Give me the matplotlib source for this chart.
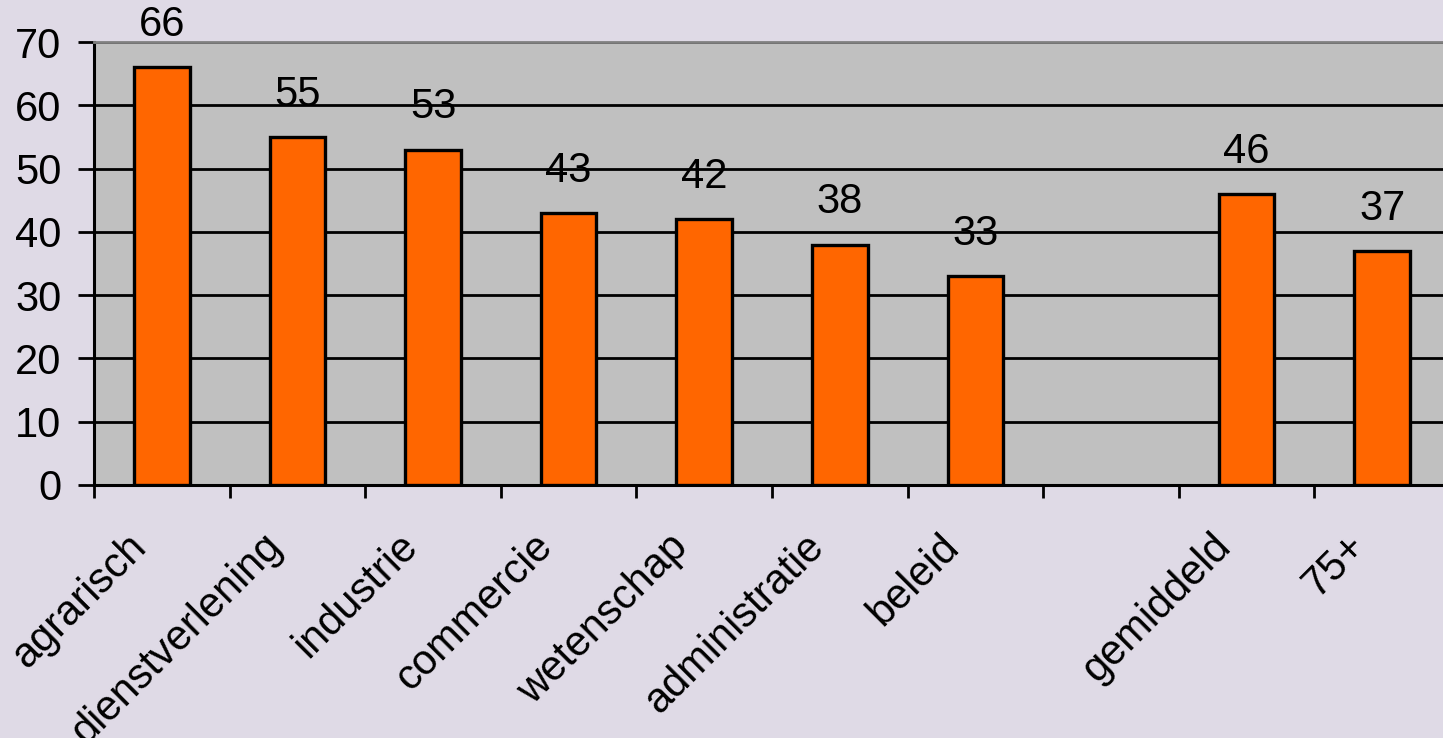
import matplotlib
matplotlib.use("Agg")
import matplotlib.pyplot as plt
import matplotlib.transforms as mtransforms
import numpy as np

categories = ["agrarisch", "dienstverlening", "industrie", "commercie", "wetenschap",
              "administratie", "beleid", "", "gemiddeld", "75+"]
values = [66, 55, 53, 43, 42, 38, 33, None, 46, 37]
yticks = [0, 10, 20, 30, 40, 50, 60, 70]

plt.rcParams['font.family'] = ['Liberation Sans', 'DejaVu Sans']

fig = plt.figure(figsize=(14.43, 7.38), dpi=100)
fig.patch.set_facecolor('#DFDAE6')
ax = fig.add_axes([94/1443, (738-485)/738, 1356/1443, (485-42)/738])
ax.set_facecolor('#C0C0C0')

x = np.arange(len(categories)) + 0.5
for xi, v in zip(x, values):
    if v is None:
        continue
    ax.bar(xi, v, width=0.41, color='#FF6600', edgecolor='black', linewidth=2.4, zorder=3)
    ax.annotate(str(v), (xi, v), xytext=(0, 16), textcoords='offset points',
                ha='center', va='bottom', fontsize=30, color='black', zorder=4)

ax.set_xlim(0, len(categories))
ax.set_ylim(0, 70)
ax.set_yticks(yticks)
ax.yaxis.grid(True, color='black', linewidth=2.0, zorder=1)
ax.set_axisbelow(True)

ax.set_xticks(x)
ax.set_xticklabels(categories, rotation=45, ha='right', va='center', rotation_mode='anchor',
                   fontsize=30)
ax.set_xticks(np.arange(len(categories) + 1), minor=True)
ax.tick_params(axis='x', which='major', length=0, pad=40)
ax.tick_params(axis='x', which='minor', length=9.5, width=2, color='black', direction='out')
ax.tick_params(axis='y', length=11.5, width=2, color='black', pad=12, labelsize=30)

offset = mtransforms.ScaledTranslation(-0.22, 0, fig.dpi_scale_trans)
for lbl in ax.get_xticklabels():
    lbl.set_transform(lbl.get_transform() + offset)

for s in ['left', 'bottom']:
    ax.spines[s].set_color('black')
    ax.spines[s].set_linewidth(2.2)
ax.spines['top'].set_color('#808080')
ax.spines['top'].set_linewidth(2)
ax.spines['right'].set_visible(False)

fig.savefig('out.png', dpi=100, facecolor=fig.get_facecolor())
